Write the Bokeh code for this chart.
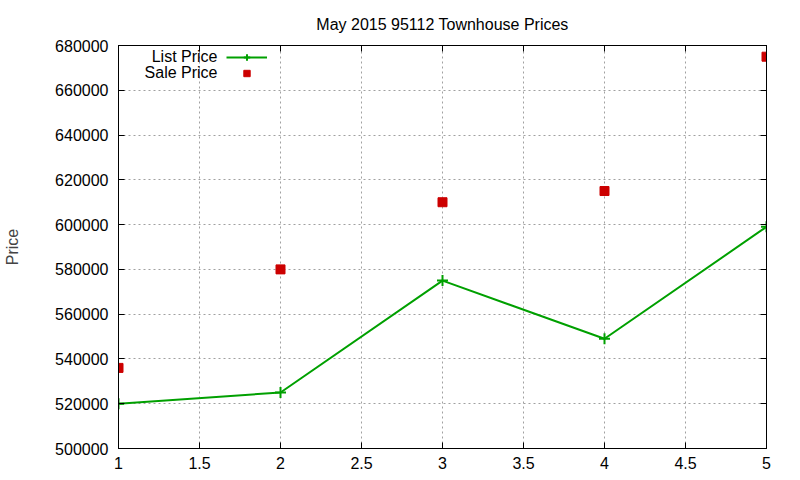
from bokeh.plotting import figure
from bokeh.models import (LinearAxis, Range1d, Label, Legend, LegendItem,
                          FixedTicker, ColumnDataSource, BasicTickFormatter, Grid)
from bokeh.embed import file_html
from bokeh.resources import INLINE

# data
day = [1, 2, 3, 4, 5]
list_price = [520000, 525000, 575000, 549000, 599000]
sale_price = [536000, 580000, 610000, 615000, 675000]
x_ticks = [1, 1.5, 2, 2.5, 3, 3.5, 4, 4.5, 5]
y_ticks = list(range(500000, 680001, 20000))

FONT = "Liberation Sans"
GREEN = "#00a000"
RED = "#cc0000"

p = figure(width=800, height=480, output_backend="svg", toolbar_location=None,
           x_range=Range1d(1, 5), y_range=Range1d(500000, 680000),
           min_border_left=118, min_border_right=34, min_border_top=45,
           min_border_bottom=32, x_axis_location=None, y_axis_location=None)
p.center = []
p.outline_line_color = "black"
p.outline_line_width = 1
p.background_fill_color = "white"
p.border_fill_color = "white"

p.title.text = "May 2015 95112 Townhouse Prices"
p.title.align = "center"
p.title.text_font = FONT
p.title.text_font_size = "16px"
p.title.text_font_style = "normal"
p.title.text_color = "black"
p.title.standoff = 26


def style_axis(ax, labels=True):
    ax.axis_line_color = "black"
    ax.major_tick_in = 6
    ax.major_tick_out = 0
    ax.minor_tick_line_color = None
    ax.major_tick_line_color = "black"
    ax.major_label_text_font = FONT
    ax.major_label_text_font_size = "16px"
    ax.major_label_text_color = "black" if labels else None
    ax.formatter = BasicTickFormatter(use_scientific=False)


xb = LinearAxis(ticker=FixedTicker(ticks=x_ticks))
style_axis(xb)
xb.major_label_standoff = 8
xb.major_label_overrides = {1: "1", 2: "2", 3: "3", 4: "4", 5: "5"}
p.add_layout(xb, "below")

xt = LinearAxis(ticker=FixedTicker(ticks=x_ticks))
style_axis(xt, labels=False)
xt.major_label_text_font_size = "0px"
xt.major_label_standoff = 0
p.add_layout(xt, "above")

yl = LinearAxis(ticker=FixedTicker(ticks=y_ticks))
style_axis(yl)
yl.major_label_standoff = 10
yl.axis_label = "Price"
yl.axis_label_text_font = FONT
yl.axis_label_text_font_size = "16px"
yl.axis_label_text_font_style = "normal"
yl.axis_label_standoff = 31
p.add_layout(yl, "left")

yr = LinearAxis(ticker=FixedTicker(ticks=y_ticks))
style_axis(yr, labels=False)
yr.major_label_text_font_size = "0px"
yr.major_label_standoff = 0
p.add_layout(yr, "right")

for dim, tks in ((0, x_ticks), (1, y_ticks)):
    g = Grid(dimension=dim, ticker=FixedTicker(ticks=tks))
    g.grid_line_color = "#a0a0a0"
    g.grid_line_dash = "2 3"
    g.grid_line_width = 1
    p.add_layout(g)

src_l = ColumnDataSource(dict(x=day, y=list_price))
src_s = ColumnDataSource(dict(x=day, y=sale_price))

ln = p.line("x", "y", source=src_l, line_color=GREEN, line_width=2)
mk = p.scatter("x", "y", source=src_l, marker="cross", size=11,
               line_color=GREEN, line_width=2)
sq = p.scatter("x", "y", source=src_s, marker="square", size=9,
               fill_color=RED, line_color=RED)

legend = Legend(items=[LegendItem(label="List Price", renderers=[ln, mk]),
                       LegendItem(label="Sale Price", renderers=[sq])],
                location=(108, 367), padding=0, margin=0, spacing=0,
                glyph_width=41, glyph_height=16, label_height=16,
                label_width=0, label_standoff=0,
                label_text_font_size="1px", label_text_alpha=0,
                border_line_color=None, background_fill_alpha=0)
p.add_layout(legend, "center")

for txt, yy in (("List Price", 56), ("Sale Price", 72)):
    p.add_layout(Label(x=217 - 118, y=448 - yy, x_units="screen",
                       y_units="screen", text=txt, text_align="right",
                       text_baseline="middle", text_font=FONT,
                       text_font_size="16px", text_color="black"))

open("out.html", "w").write(file_html(p, INLINE))
